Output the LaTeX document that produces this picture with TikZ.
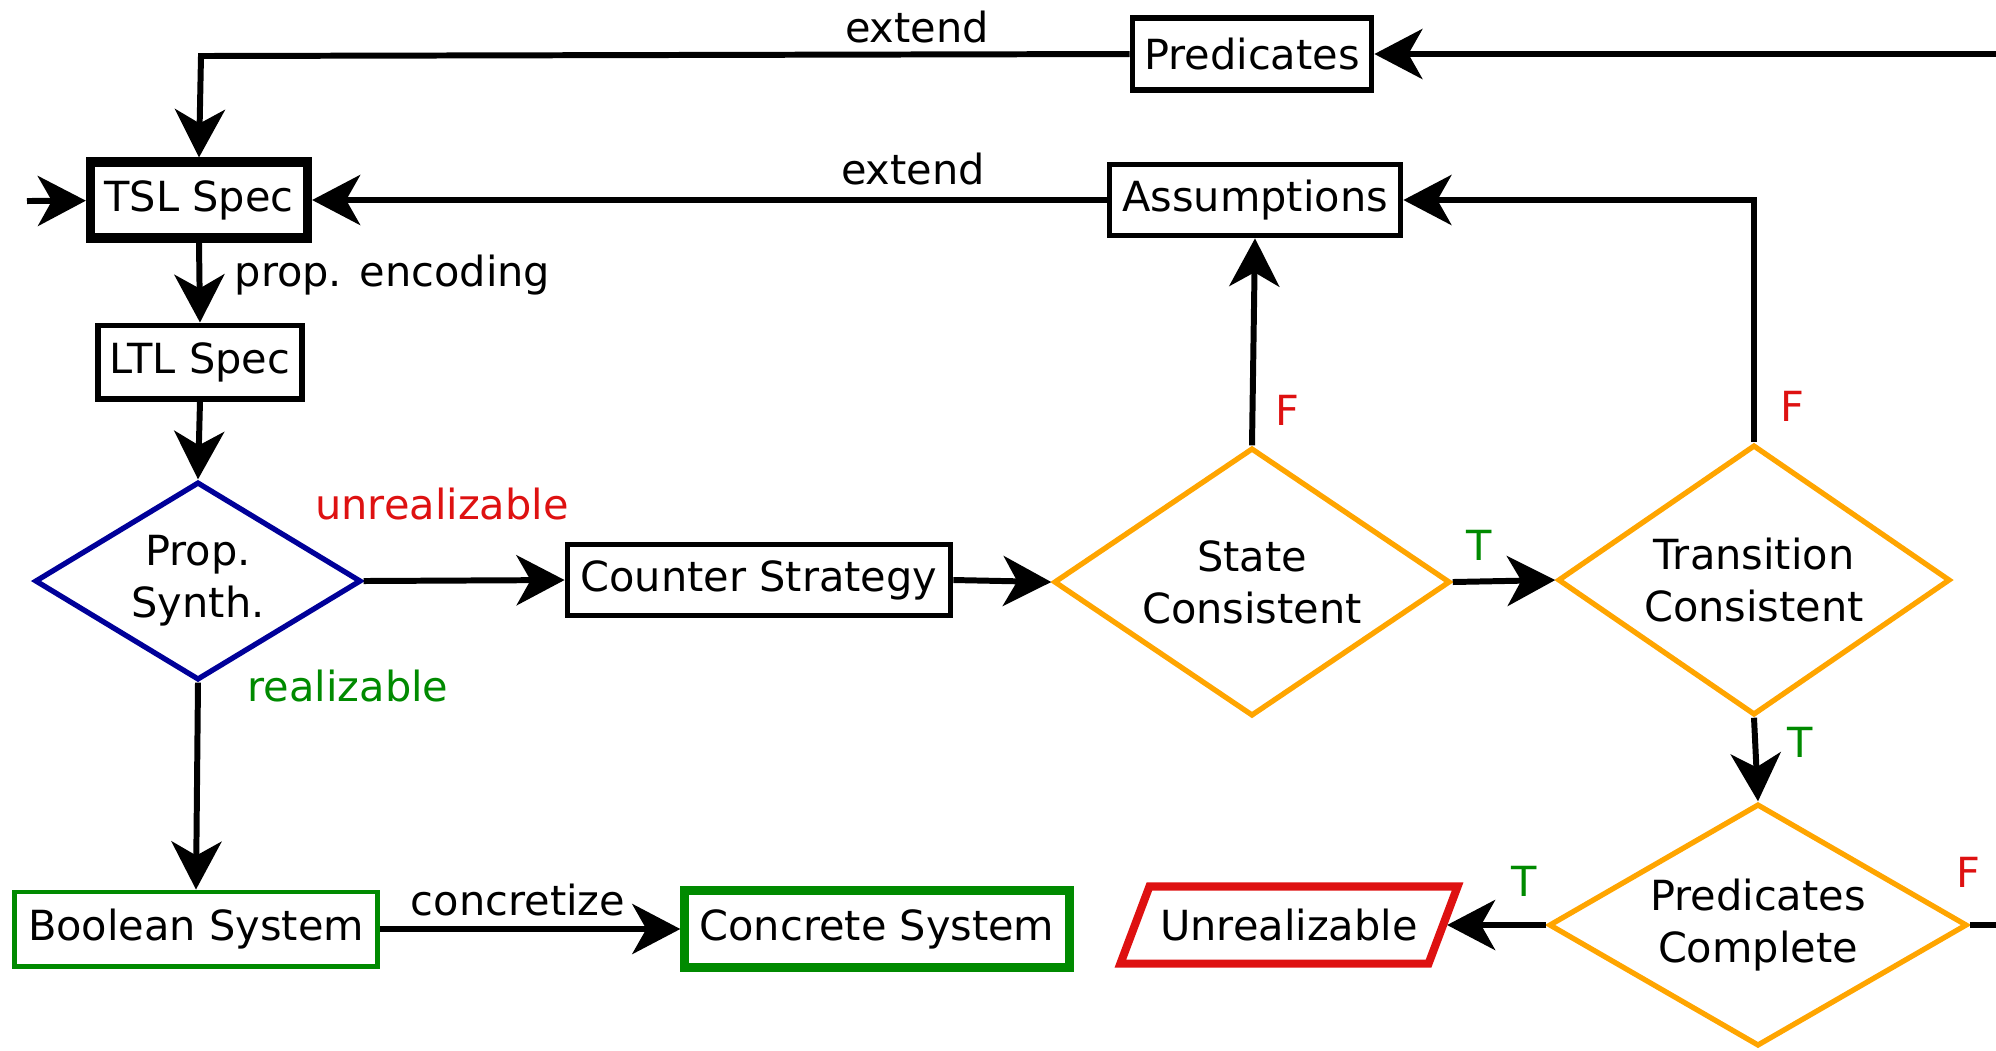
\documentclass[tikz,border=0pt]{standalone}
\usepackage{fontspec}
\setmainfont{DejaVu Sans}
\usetikzlibrary{shapes.geometric,arrows.meta}
\definecolor{decorange}{RGB}{255,165,0}
\definecolor{okgreen}{RGB}{0,138,0}
\definecolor{badred}{RGB}{222,17,17}
\definecolor{synthblue}{RGB}{0,0,153}
\newcommand{\diagfont}{\fontsize{11.8}{14.8}\selectfont}
\begin{document}
\begin{tikzpicture}[x=0.01cm, y=-0.01cm, font=\diagfont,
  box/.style={draw, rectangle, inner sep=0pt, line width=1.6pt},
  heavybox/.style={box, line width=2.6pt},
  goodbox/.style={box, draw=okgreen},
  decision/.style={diamond, draw=decorange, line width=1.5pt, inner sep=0pt, align=center},
  conn/.style={line width=1.7pt, -{Stealth[length=4.8mm, width=5.0mm, inset=1.4mm]}},
  plain/.style={line width=1.7pt},
  lbl/.style={inner sep=0pt},
  redlbl/.style={lbl, text=badred},
  greenlbl/.style={lbl, text=okgreen}]
\useasboundingbox (0,0) rectangle (1996,1050);

% boxes
\node[box, minimum width=2.39cm, minimum height=0.72cm] (pred) at (1252,54) {Predicates};
\node[box, minimum width=2.91cm, minimum height=0.71cm] (assum) at (1255,200) {Assumptions};
\node[heavybox, minimum width=2.17cm, minimum height=0.76cm] (tsl) at (199,200) {TSL Spec};
\node[box, line width=1.7pt, minimum width=2.03cm, minimum height=0.73cm] (ltl) at (200,362) {LTL Spec};
\node[box, minimum width=3.83cm, minimum height=0.71cm] (counter) at (759,580) {Counter Strategy};
\node[goodbox, line width=1.4pt, minimum width=3.63cm, minimum height=0.74cm] (bool) at (196,929) {Boolean System};
\node[goodbox, line width=2.6pt, minimum width=3.84cm, minimum height=0.77cm] (concrete) at (877,929) {Concrete System};

% the failure result is a slanted box around an invisible rectangle
\node[rectangle, inner sep=0pt, outer sep=0pt, minimum width=3.08cm, minimum height=0.77cm]
      (unreal) at (1289,925) {Unrealizable};
\draw[draw=badred, line width=2.3pt, line join=miter]
  ([xshift=-0.145cm]unreal.south west) -- ([xshift=0.145cm]unreal.north west)
  -- ([xshift=0.145cm]unreal.north east) -- ([xshift=-0.145cm]unreal.south east) -- cycle;

% decisions
\node[decision, draw=synthblue, aspect=1.65, minimum width=3.26cm, minimum height=1.98cm] (synth) at (198,581) {Prop.\\Synth.};
\node[decision, aspect=1.48, minimum width=3.96cm, minimum height=2.68cm] (state) at (1252,582) {State\\Consistent};
\node[decision, aspect=1.45, minimum width=3.92cm, minimum height=2.70cm] (trans) at (1754,580) {Transition\\Consistent};
\node[decision, aspect=1.73, minimum width=4.18cm, minimum height=2.42cm] (complete) at (1758,925) {Predicates\\Complete};

% free ends
\coordinate (entry) at (27,201);
\coordinate (predin) at (1996,54);
\coordinate (completeout) at (1996,925);
\coordinate (bend) at (201,56);

% connectors
\draw[conn] (entry) -- (tsl);
\draw[conn] (pred.west) -- (bend) -- (tsl.north);
\draw[conn] (predin) -- (pred.east);
\draw[conn] (assum.west) -- (tsl.east);
\draw[conn] (tsl.south) -- (ltl.north);
\draw[conn] (ltl.south) -- (synth.north);
\draw[conn] (synth.east) -- (counter.west);
\draw[conn] (synth.south) -- (bool.north);
\draw[conn] (counter.east) -- (state.west);
\draw[conn] (state.north) -- (assum.south);
\draw[conn] (state.east) -- (trans.west);
\draw[conn] (trans.north) |- (assum.east);
\draw[conn] (trans.south) -- (complete.north);
\draw[conn] (complete.west) -- ([xshift=0.04cm]unreal.east);
\draw[plain] (complete.east) -- (completeout);
\draw[conn] (bool.east) -- (concrete.west);

% labels
\node[lbl] (extendtop) at (917,27) {extend};
\node[lbl] (extendmid) at (913,169) {extend};
\node[lbl, anchor=west] (encoding) at (234,275) {prop. encoding};
\node[redlbl] (unrealtxt) at (442,504) {unrealizable};
\node[greenlbl] (realtxt) at (348,686) {realizable};
\node[lbl] (concretize) at (518,900) {concretize};
\node[redlbl] (fstate) at (1287,410) {F};
\node[greenlbl] (tstate) at (1479,545) {T};
\node[redlbl] (ftrans) at (1792,406) {F};
\node[greenlbl] (ttrans) at (1800,742) {T};
\node[greenlbl] (tcomplete) at (1524,881) {T};
\node[redlbl] (fcomplete) at (1968,872) {F};
\end{tikzpicture}
\end{document}
